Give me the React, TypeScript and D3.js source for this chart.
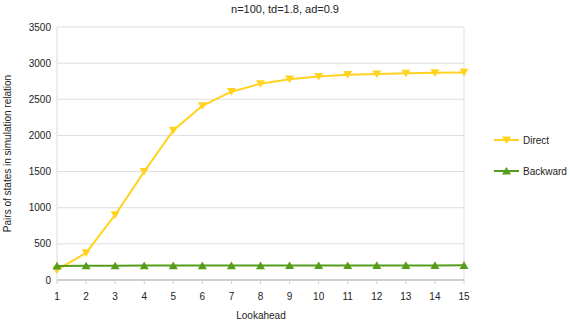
import React from "react";
import * as d3 from "d3";

// chart values
const lookahead = [1, 2, 3, 4, 5, 6, 7, 8, 9, 10, 11, 12, 13, 14, 15];
const directValues = [140, 375, 900, 1500, 2070, 2410, 2605, 2715, 2778, 2815, 2840, 2850, 2860, 2866, 2872];
const backwardValues = [195, 198, 198, 199, 199, 200, 200, 200, 201, 201, 201, 202, 202, 202, 203];
const yTicks = [0, 500, 1000, 1500, 2000, 2500, 3000, 3500];

const series = [
  { name: "Direct", color: "#ffd320", values: directValues, down: true },
  { name: "Backward", color: "#579d1c", values: backwardValues, down: false },
];

const W = 570;
const H = 320;
const margin = { left: 57, right: 106, top: 27, bottom: 40 };
const font = "'Liberation Sans', Arial, sans-serif";

const App = () => {
  const x = d3
    .scaleLinear()
    .domain([1, 15])
    .range([margin.left, W - margin.right]);
  const y = d3
    .scaleLinear()
    .domain([0, 3500])
    .range([H - margin.bottom, margin.top]);

  const line = d3
    .line<number>()
    .x((_, i) => x(lookahead[i]))
    .y(d => y(d));

  // small triangle, pointing down or up
  const tri = (cx: number, cy: number, down: boolean) => {
    const s = 4.5;
    return down
      ? `M${cx - s},${cy - s * 0.8}L${cx + s},${cy - s * 0.8}L${cx},${cy + s * 0.9}Z`
      : `M${cx - s},${cy + s * 0.8}L${cx + s},${cy + s * 0.8}L${cx},${cy - s * 0.9}Z`;
  };

  const plotRight = W - margin.right;
  const plotBottom = H - margin.bottom;

  return (
    <div style={{ position: "absolute", left: 0, top: 0 }}>
      <svg width={W} height={H} style={{ display: "block", background: "#fff" }} fontFamily={font}>
        {/* gridlines */}
        {yTicks.map(t => (
          <line key={t} x1={margin.left} x2={plotRight} y1={y(t)} y2={y(t)} stroke="#dddddd" strokeWidth={1} />
        ))}
        <line x1={margin.left} x2={margin.left} y1={margin.top} y2={plotBottom} stroke="#dddddd" />
        <line x1={plotRight} x2={plotRight} y1={margin.top} y2={plotBottom} stroke="#dddddd" />
        <line x1={margin.left} x2={plotRight} y1={plotBottom} y2={plotBottom} stroke="#d0d0d0" strokeWidth={2} />
        {lookahead.map(v => (
          <line key={v} x1={x(v)} x2={x(v)} y1={plotBottom} y2={plotBottom + 4} stroke="#d0d0d0" />
        ))}

        {/* tick labels */}
        {yTicks.map(t => (
          <text key={t} x={margin.left - 6} y={y(t)} dy="0.35em" textAnchor="end" fontSize={10} fill="#222">
            {t}
          </text>
        ))}
        {lookahead.map(v => (
          <text key={v} x={x(v)} y={plotBottom + 16} dy="0.35em" textAnchor="middle" fontSize={10} fill="#222">
            {v}
          </text>
        ))}

        {/* series */}
        {series.map(s => (
          <g key={s.name}>
            <path d={line(s.values) || ""} fill="none" stroke={s.color} strokeWidth={2} strokeLinejoin="round" />
            {s.values.map((v, i) => (
              <path key={i} d={tri(x(lookahead[i]), y(v), s.down)} fill={s.color} />
            ))}
          </g>
        ))}

        {/* titles */}
        <text x={285} y={9} dy="0.35em" textAnchor="middle" fontSize={11} fill="#222">
          n=100, td=1.8, ad=0.9
        </text>
        <text x={261} y={315} dy="0.35em" textAnchor="middle" fontSize={10} fill="#222">
          Lookahead
        </text>
        <text
          transform={`translate(7,${(margin.top + plotBottom) / 2}) rotate(-90)`}
          dy="0.35em"
          textAnchor="middle"
          fontSize={10}
          fill="#222"
        >
          Pairs of states in simulation relation
        </text>

        {/* legend */}
        {series.map((s, i) => {
          const ly = 140 + i * 31;
          return (
            <g key={s.name}>
              <line x1={494} x2={519} y1={ly} y2={ly} stroke={s.color} strokeWidth={2} />
              <path d={tri(506.5, ly, s.down)} fill={s.color} />
              <text x={523} y={ly} dy="0.35em" fontSize={10} fill="#222">
                {s.name}
              </text>
            </g>
          );
        })}
      </svg>
    </div>
  );
};

export default App;
